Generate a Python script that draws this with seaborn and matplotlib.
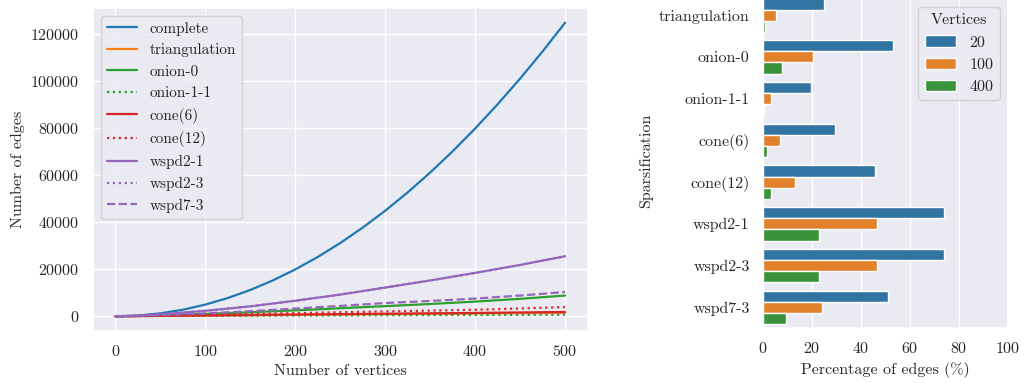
import numpy as np
import pandas as pd
import matplotlib
matplotlib.use("Agg")
import matplotlib.pyplot as plt
import seaborn as sns

# ---------------- data ----------------
vertices = [0, 20, 50, 100, 150, 200, 250, 300, 350, 400, 450, 500]
complete_vertices = [0, 20, 25, 50, 75, 100, 125, 150, 175, 200, 225, 250, 275, 300,
                     325, 350, 375, 400, 425, 450, 475, 500]
complete = [0, 190, 300, 1225, 2775, 4950, 7750, 11175, 15225, 19900, 25200, 31125,
            37675, 44850, 52650, 61075, 70125, 79800, 90100, 101025, 112575, 124750]
triangulation = [0, 48, 135, 270, 420, 570, 720, 870, 1020, 1170, 1330, 1480]
onion_0 = [0, 101, 420, 1010, 1700, 2500, 3400, 4300, 5200, 6224, 7400, 8800]
onion_1_1 = [0, 37, 100, 173, 230, 290, 340, 400, 450, 500, 560, 620]
cone_6 = [0, 56, 170, 351, 540, 720, 900, 1070, 1240, 1400, 1600, 1800]
cone_12 = [0, 87, 300, 653, 1000, 1340, 1690, 2050, 2400, 2750, 3300, 3900]
wspd2_1 = [0, 140, 800, 2307, 4200, 6600, 9200, 12200, 15200, 18434, 21800, 25500]
wspd2_3 = [0, 140, 800, 2307, 4200, 6600, 9200, 12200, 15200, 18434, 21800, 25500]
wspd7_3 = [0, 97, 450, 1203, 2150, 3250, 4400, 5600, 6500, 7500, 8800, 10300]

series_names = ["complete", "triangulation", "onion-0", "onion-1-1", "cone(6)",
                "cone(12)", "wspd2-1", "wspd2-3", "wspd7-3"]
series_values = [complete, triangulation, onion_0, onion_1_1, cone_6,
                 cone_12, wspd2_1, wspd2_3, wspd7_3]

bar_categories = ["triangulation", "onion-0", "onion-1-1", "cone(6)", "cone(12)",
                  "wspd2-1", "wspd2-3", "wspd7-3"]
bar_vertices = ["20", "100", "400"]
pct_20 = [25.0, 53.1, 19.6, 29.4, 45.7, 73.9, 73.9, 51.0]
pct_100 = [5.2, 20.4, 3.5, 7.1, 13.2, 46.6, 46.6, 24.3]
pct_400 = [0.9, 7.8, 0.5, 1.5, 3.4, 23.1, 23.1, 9.4]

# ---------------- style ----------------
sns.set_theme(style="darkgrid")
plt.rcParams["font.family"] = ["cmr10", "DejaVu Serif"]
plt.rcParams["axes.formatter.use_mathtext"] = True
plt.rcParams["mathtext.fontset"] = "cm"

tab = sns.color_palette("tab10")
styles = {
    "complete": (tab[0], "-"),
    "triangulation": (tab[1], "-"),
    "onion-0": (tab[2], "-"),
    "onion-1-1": (tab[2], ":"),
    "cone(6)": (tab[3], "-"),
    "cone(12)": (tab[3], ":"),
    "wspd2-1": (tab[4], "-"),
    "wspd2-3": (tab[4], ":"),
    "wspd7-3": (tab[4], "--"),
}

fig = plt.figure(figsize=(10.24, 3.83), dpi=100)
ax1 = fig.add_axes([0.0908, 0.136, 0.483, 0.843])
ax2 = fig.add_axes([0.745, 0.143, 0.239, 0.872])

fs = 11.5
# ---------------- left: lines ----------------
for name, vals in zip(series_names, series_values):
    c, ls = styles[name]
    xs = complete_vertices if name == "complete" else vertices
    df = pd.DataFrame({"n": xs, "e": vals})
    sns.lineplot(data=df, x="n", y="e", ax=ax1, color=c, linestyle=ls,
                 linewidth=1.6, label=name)
ax1.set_xlabel("Number of vertices", fontsize=fs)
ax1.set_ylabel("Number of edges", fontsize=fs)
ax1.set_xticks([0, 100, 200, 300, 400, 500])
ax1.set_yticks([0, 20000, 40000, 60000, 80000, 100000, 120000])
ax1.tick_params(labelsize=fs)
ax1.legend(loc="upper left", fontsize=fs - 0.5, handlelength=2.0)

# ---------------- right: bars ----------------
rows = []
for cat, a, b, c in zip(bar_categories, pct_20, pct_100, pct_400):
    rows.append((cat, "20", a))
    rows.append((cat, "100", b))
    rows.append((cat, "400", c))
bdf = pd.DataFrame(rows, columns=["Sparsification", "Vertices", "pct"])
sns.barplot(data=bdf, y="Sparsification", x="pct", hue="Vertices",
            hue_order=bar_vertices, order=bar_categories,
            palette=list(tab[:3]), orient="h", ax=ax2, saturation=0.75)
ax2.set_xlim(0, 100)
ax2.set_xticks([0, 20, 40, 60, 80, 100])
ax2.set_xlabel("Percentage of edges (%)", fontsize=fs)
ax2.set_ylabel("Sparsification", fontsize=fs)
ax2.tick_params(labelsize=fs)
ax2.legend(title="Vertices", loc="upper right", fontsize=fs, title_fontsize=fs,
           bbox_to_anchor=(1.0, 0.985))

fig.savefig("out.png", dpi=100)
